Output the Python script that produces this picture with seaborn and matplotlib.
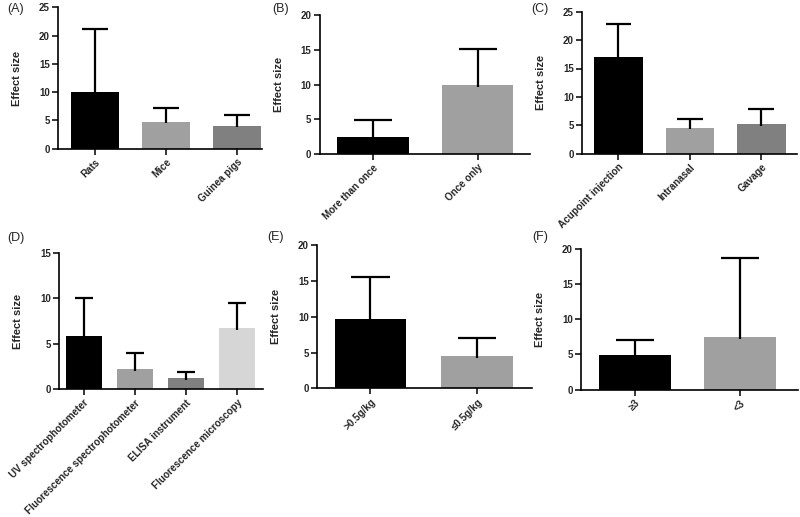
import matplotlib
matplotlib.use("Agg")
import matplotlib.pyplot as plt
import seaborn as sns
import pandas as pd

sns.set_theme(style="ticks")
plt.rcParams['font.family'] = ['Liberation Sans', 'DejaVu Sans']

# ---- data ----
cats_a = ["Rats", "Mice", "Guinea pigs"]
mean_a = [10.1, 4.8, 4.1]
err_a = [11.1, 2.45, 1.9]

cats_b = ["More than once", "Once only"]
mean_b = [2.54, 9.9]
err_b = [2.4, 5.15]

cats_c = ["Acupoint injection", "Intranasal", "Gavage"]
mean_c = [17.1, 4.6, 5.2]
err_c = [5.8, 1.5, 2.65]

cats_d = ["UV spectrophotometer", "Fluorescence spectrophotometer",
          "ELISA instrument", "Fluorescence microscopy"]
mean_d = [5.86, 2.27, 1.28, 6.78]
err_d = [4.14, 1.69, 0.66, 2.67]

cats_e = [">0.5g/kg", "\u22640.5g/kg"]
mean_e = [9.69, 4.56]
err_e = [5.9, 2.47]

cats_f = ["\u22653", "<3"]
mean_f = [4.92, 7.52]
err_f = [2.18, 11.2]

yticks_a = [0, 5, 10, 15, 20, 25]
yticks_b = [0, 5, 10, 15, 20]
yticks_c = [0, 5, 10, 15, 20, 25]
yticks_d = [0, 5, 10, 15]
yticks_e = [0, 5, 10, 15, 20]
yticks_f = [0, 5, 10, 15, 20]

panel_labels = ["(A)", "(B)", "(C)", "(D)", "(E)", "(F)"]

BLACK = "#000000"
MID = "#a0a0a0"
DARK = "#808080"
LIGHT = "#d6d6d6"

W, H = 800, 517
fig = plt.figure(figsize=(W / 100, H / 100), dpi=100)


def px_axes(x0, y0, x1, y1):
    return fig.add_axes([x0 / W, 1 - y1 / H, (x1 - x0) / W, (y1 - y0) / H])


panels = [
    dict(cats=cats_a, mean=mean_a, err=err_a, yt=yticks_a, colors=[BLACK, MID, DARK],
         box=(58, 7.3, 262, 148.7), xlim=(-0.52, 2.35), width=0.685),
    dict(cats=cats_b, mean=mean_b, err=err_b, yt=yticks_b, colors=[BLACK, MID],
         box=(319.7, 15, 530, 154.3), xlim=(-0.51, 1.50), width=0.68),
    dict(cats=cats_c, mean=mean_c, err=err_c, yt=yticks_c, colors=[BLACK, MID, DARK],
         box=(582, 11.7, 797, 153.7), xlim=(-0.51, 2.5), width=0.68),
    dict(cats=cats_d, mean=mean_d, err=err_d, yt=yticks_d, colors=[BLACK, MID, DARK, LIGHT],
         box=(59.3, 253, 263, 389.3), xlim=(-0.48, 3.51), width=0.70),
    dict(cats=cats_e, mean=mean_e, err=err_e, yt=yticks_e, colors=[BLACK, MID],
         box=(317, 245.3, 531.7, 388.3), xlim=(-0.5, 1.51), width=0.67),
    dict(cats=cats_f, mean=mean_f, err=err_f, yt=yticks_f, colors=[BLACK, MID],
         box=(581, 248.8, 798, 389.7), xlim=(-0.51, 1.55), width=0.687),
]

label_pos = [(7, 3), (272, 3), (531, 3), (7, 232), (267, 231), (532, 231)]

for p, lab, lp in zip(panels, panel_labels, label_pos):
    x0, y0, x1, y1 = p["box"]
    ax = px_axes(x0, y0, x1, y1)
    df = pd.DataFrame({"cat": p["cats"], "val": p["mean"]})
    sns.barplot(data=df, x="cat", y="val", hue="cat", palette=p["colors"],
                legend=False, width=p["width"], linewidth=0, saturation=1, ax=ax)
    for patch, m, e in zip(ax.patches, p["mean"], p["err"]):
        cx = patch.get_x() + patch.get_width() / 2
        half = 0.18
        ax.vlines(cx, m - 0.3, m + e, color="black", lw=1.6, zorder=3)
        ax.hlines(m + e, cx - half, cx + half, color="black", lw=1.6, zorder=3)
    ax.set_xlim(*p["xlim"])
    ax.set_ylim(0, p["yt"][-1])
    ax.set_yticks(p["yt"])
    ax.set_xlabel("")
    ax.set_ylabel("Effect size", fontsize=8, fontweight="bold")
    wpx = x1 - x0
    ax.yaxis.set_label_coords(-36 / wpx, 0.5)
    ax.tick_params(axis="both", direction="out", length=4, width=1.1,
                   color="black", labelsize=7, pad=2)
    for t in ax.get_yticklabels():
        t.set_fontweight("bold")
    ax.set_xticks(range(len(p["cats"])))
    ax.set_xticklabels(p["cats"], rotation=45, ha="right", rotation_mode="anchor",
                       fontsize=7.1, fontweight="bold")
    for s in ["top", "right"]:
        ax.spines[s].set_visible(False)
    for s in ["left", "bottom"]:
        ax.spines[s].set_linewidth(1.2)
        ax.spines[s].set_color("black")
    ax.patch.set_alpha(0)
    fig.text(lp[0] / W, 1 - lp[1] / H, lab, fontsize=9, ha="left", va="top")

fig.savefig("out.png", dpi=100)
